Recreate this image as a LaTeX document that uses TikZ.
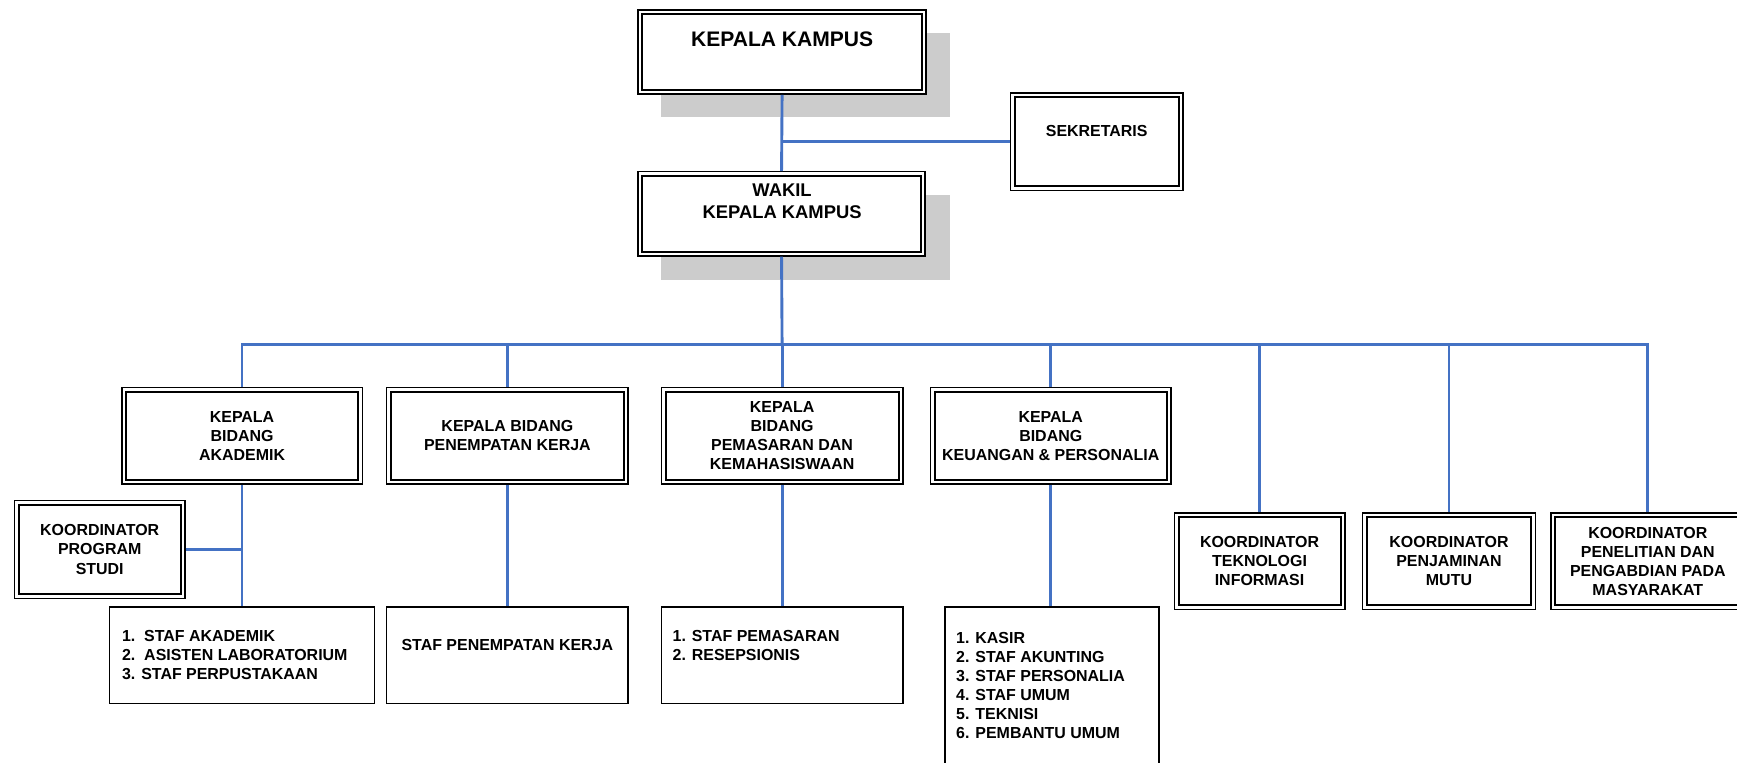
\documentclass[tikz,border=0pt]{standalone}
\usepackage{fontspec}
\setmainfont{Liberation Sans}
\definecolor{connblue}{RGB}{68,114,196}
\begin{document}
\begin{tikzpicture}[x=1pt,y=-1pt,
  conn/.style={draw=connblue, line width=2.6pt},
  dbl/.style={draw=black, line width=1.2pt, fill=white, inner sep=0pt, align=center, font=\bfseries\fontsize{14.4}{17.2}\selectfont},
  sbox/.style={draw=black, line width=1.4pt, fill=white, inner sep=0pt},
  shadowbox/.style={fill=black!20, draw=none},
  lst/.style={inner sep=0pt, anchor=north west, align=left, font=\bfseries\fontsize{14.4}{17.2}\selectfont},
  ttl/.style={inner sep=0pt, align=center},
  innerline/.style={line width=1.8pt}
]
\path[use as bounding box, clip] (0,0) rectangle (1568,688);
\fill[white] (0,0) rectangle (1568,688);

% shadows
\fill[shadowbox] (597,30) rectangle (858,106);
\fill[shadowbox] (597,176) rectangle (858,253);

% top boxes
\node[dbl, minimum width=260pt, minimum height=76pt] (kk) at (706,47) {};
\node[ttl, font=\bfseries\fontsize{19}{22}\selectfont] (kkt) at (706,35) {KEPALA KAMPUS};
\node[dbl, minimum width=156pt, minimum height=88pt] (sek) at (990,128) {};
\node[ttl, font=\bfseries\fontsize{14.4}{17.2}\selectfont] (sekt) at (990,118) {SEKRETARIS};
\node[dbl, minimum width=259pt, minimum height=76pt] (wk) at (705.5,193) {};
\node[ttl, font=\bfseries\fontsize{16.6}{20}\selectfont] (wkt) at (706,182) {WAKIL\\KEPALA KAMPUS};

% kepala bidang
\node[dbl, minimum width=217pt, minimum height=87pt] (kba) at (218.5,393.5) {KEPALA\\BIDANG\\AKADEMIK};
\node[dbl, minimum width=218pt, minimum height=87pt] (kbp) at (458,393.5) {KEPALA BIDANG\\PENEMPATAN KERJA};
\node[dbl, minimum width=218pt, minimum height=87pt] (kbm) at (706,393.5) {KEPALA\\BIDANG\\PEMASARAN DAN\\KEMAHASISWAAN};
\node[dbl, minimum width=217pt, minimum height=87pt] (kbk) at (948.5,393.5) {KEPALA\\BIDANG\\KEUANGAN \& PERSONALIA};

% koordinator
\node[dbl, minimum width=154pt, minimum height=88pt] (kps) at (90,496) {KOORDINATOR\\PROGRAM\\STUDI};
\node[dbl, minimum width=154pt, minimum height=87pt] (kti) at (1137,506.5) {KOORDINATOR\\TEKNOLOGI\\INFORMASI};
\node[dbl, minimum width=156pt, minimum height=87pt] (kpm) at (1308,506.5) {KOORDINATOR\\PENJAMINAN\\MUTU};
\node[dbl, minimum width=175pt, minimum height=87pt] (kpp) at (1487.5,506.5) {KOORDINATOR\\PENELITIAN DAN\\PENGABDIAN PADA\\MASYARAKAT};

% staff boxes
\node[sbox, minimum width=239pt, minimum height=87pt] (sa) at (218.5,591.5) {};
\node[lst] (sat) at (110,568.8) {1.\ \ STAF AKADEMIK\\2.\ \ ASISTEN LABORATORIUM\\3. STAF PERPUSTAKAAN};
\node[sbox, minimum width=218pt, minimum height=87pt] (sp) at (458,591.5) {};
\node[ttl, font=\bfseries\fontsize{14.4}{17.2}\selectfont] (spt) at (458,582) {STAF PENEMPATAN KERJA};
\node[sbox, minimum width=218pt, minimum height=87pt] (sm) at (706,591.5) {};
\node[lst] (smt) at (607,568.8) {1. STAF PEMASARAN\\2. RESEPSIONIS};
\node[sbox, minimum width=193pt, minimum height=152pt] (sk) at (949.5,624) {};
\node[lst] (skt) at (863,570.8) {1. KASIR\\2. STAF AKUNTING\\3. STAF PERSONALIA\\4. STAF UMUM\\5. TEKNISI\\6. PEMBANTU UMUM};

% inner lines of double boxes
\foreach \n in {kk,sek,wk,kba,kbp,kbm,kbk,kps,kti,kpm,kpp}
  \draw[innerline] ([shift={(4.5,4.5)}]\n.north west) rectangle ([shift={(-4.5,-4.5)}]\n.south east);

% connectors
\coordinate (bus) at (706,311);
\draw[conn] (kk.south) -- (wk.north);
\draw[conn] (sek.west) -- (sek.west -| kk.south);
\draw[conn] (wk.south) -- (bus);
\draw[conn] (kba.north) |- (bus) -| (kpp.north);
\draw[conn] (kbp.north) -- (kbp.north |- bus);
\draw[conn] (kbm.north) -- (kbm.north |- bus);
\draw[conn] (kbk.north) -- (kbk.north |- bus);
\draw[conn] (kti.north) -- (kti.north |- bus);
\draw[conn] (kpm.north) -- (kpm.north |- bus);
\draw[conn] (kba.south) -- (sa.north);
\draw[conn] (kps.east) -- (kps.east -| kba.south);
\draw[conn] (kbp.south) -- (sp.north);
\draw[conn] (kbm.south) -- (sm.north);
\draw[conn] (kbk.south) -- (kbk.south |- sk.north);
\end{tikzpicture}
\end{document}
